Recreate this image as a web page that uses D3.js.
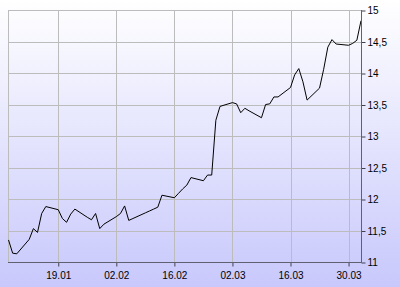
<!DOCTYPE html>
<html>
<head>
<meta charset="utf-8">
<script src="https://d3js.org/d3.v7.min.js"></script>
<style>
  body { margin: 0; }
  svg { display: block; font-family: "Liberation Sans", Arial, sans-serif; }
</style>
</head>
<body>
<div id="chart"></div>
<script>
// Data (2009, trading days)
var dates = [
  "2009-01-07","2009-01-08","2009-01-09","2009-01-12","2009-01-13","2009-01-14","2009-01-15","2009-01-16",
  "2009-01-19","2009-01-20","2009-01-21","2009-01-22","2009-01-23","2009-01-26","2009-01-27","2009-01-28",
  "2009-01-29","2009-01-30","2009-02-02","2009-02-03","2009-02-04","2009-02-05","2009-02-06","2009-02-09",
  "2009-02-10","2009-02-11","2009-02-12","2009-02-13","2009-02-16","2009-02-17","2009-02-18","2009-02-19",
  "2009-02-20","2009-02-23","2009-02-24","2009-02-25","2009-02-26","2009-02-27","2009-03-02","2009-03-03",
  "2009-03-04","2009-03-05","2009-03-06","2009-03-09","2009-03-10","2009-03-11","2009-03-12","2009-03-13",
  "2009-03-16","2009-03-17","2009-03-18","2009-03-19","2009-03-20","2009-03-23","2009-03-24","2009-03-25",
  "2009-03-26","2009-03-27","2009-03-30","2009-03-31","2009-04-01","2009-04-02"
];
var prices = [
  11.35, 11.14, 11.13, 11.36, 11.53, 11.47, 11.77, 11.88,
  11.83, 11.69, 11.63, 11.76, 11.84, 11.71, 11.67, 11.77,
  11.53, 11.60, 11.72, 11.77, 11.89, 11.66, 11.69, 11.78,
  11.81, 11.84, 11.87, 12.06, 12.02, 12.09, 12.16, 12.22,
  12.34, 12.29, 12.38, 12.38, 13.25, 13.47, 13.53, 13.51,
  13.37, 13.44, 13.40, 13.29, 13.50, 13.51, 13.62, 13.62,
  13.77, 13.97, 14.07, 13.86, 13.57, 13.76, 14.06, 14.41,
  14.53, 14.46, 14.44, 14.47, 14.52, 14.83
];
var xTicks = ["2009-01-19","2009-02-02","2009-02-16","2009-03-02","2009-03-16","2009-03-30"];
var yTicks = [11, 11.5, 12, 12.5, 13, 13.5, 14, 14.5, 15];

var width = 400, height = 287;
var pLeft = 8, pTop = 10, pRight = 361, pBottom = 262;

var parse = d3.timeParse("%Y-%m-%d");
var data = dates.map(function(d, i){ return {date: parse(d), value: prices[i]}; });
var tickDates = xTicks.map(parse);

var svg = d3.select("#chart").append("svg")
    .attr("width", width)
    .attr("height", height);

// background gradient
var grad = svg.append("defs").append("linearGradient")
    .attr("id", "bg").attr("x1", 0).attr("y1", 0).attr("x2", 0).attr("y2", 1);
grad.append("stop").attr("offset", "0%").attr("stop-color", "#ffffff");
grad.append("stop").attr("offset", "100%").attr("stop-color", "#c8c8fc");
svg.append("rect").attr("width", width).attr("height", height).attr("fill", "url(#bg)");

var x = d3.scaleTime()
    .domain(d3.extent(data, d => d.date))
    .range([pLeft + 0.5, pRight]);
var y = d3.scaleLinear()
    .domain([11, 15])
    .range([pBottom, pTop]);

// grid
var grid = svg.append("g").attr("stroke", "#bcbcbc").attr("stroke-width", 1);
grid.selectAll(".hg").data(yTicks).enter().append("line")
    .attr("x1", pLeft).attr("x2", pRight)
    .attr("y1", d => Math.round(y(d)) + 0.5).attr("y2", d => Math.round(y(d)) + 0.5);
grid.selectAll(".vg").data(tickDates).enter().append("line")
    .attr("x1", d => Math.round(x(d)) + 0.5).attr("x2", d => Math.round(x(d)) + 0.5)
    .attr("y1", pTop).attr("y2", pBottom);
grid.append("line")
    .attr("x1", pLeft + 0.5).attr("x2", pLeft + 0.5)
    .attr("y1", pTop).attr("y2", pBottom);

// line
var line = d3.line().x(d => x(d.date)).y(d => y(d.value));
svg.append("path")
    .datum(data)
    .attr("d", line)
    .attr("fill", "none")
    .attr("stroke", "#000000")
    .attr("stroke-width", 1);

// axes
var fmtY = function(d){ return String(d).replace(".", ","); };
var yAxis = d3.axisRight(y).tickValues(yTicks).tickFormat(fmtY).tickSize(4).tickPadding(2);
var xAxis = d3.axisBottom(x).tickValues(tickDates).tickFormat(d3.timeFormat("%d.%m")).tickSize(4).tickPadding(5);

var gy = svg.append("g").attr("transform", "translate(" + (pRight + 0.5) + ",0.5)").call(yAxis);
var gx = svg.append("g").attr("transform", "translate(0," + (pBottom + 0.5) + ")").call(xAxis);

[gx, gy].forEach(function(g){
  g.select(".domain").remove();
  g.selectAll(".tick line").attr("stroke", "#404050");
  g.selectAll(".tick text").attr("fill", "#000").style("font-size", "10px");
});
svg.append("line").attr("x1", pLeft).attr("x2", pRight + 1)
    .attr("y1", pBottom + 0.5).attr("y2", pBottom + 0.5).attr("stroke", "#606070");
svg.append("line").attr("x1", pRight + 0.5).attr("x2", pRight + 0.5)
    .attr("y1", pTop).attr("y2", pBottom + 1).attr("stroke", "#606070");
</script>
</body>
</html>
